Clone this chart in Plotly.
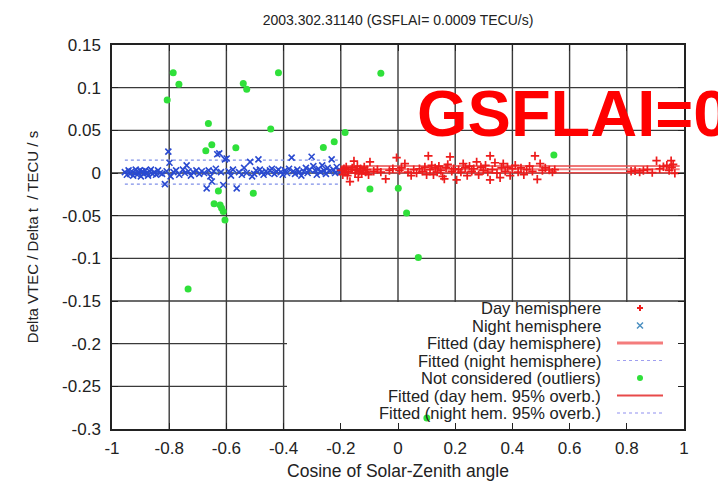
import plotly.graph_objects as go

# ---------------- data ----------------
night_x = [-0.955,-0.948,-0.942,-0.937,-0.931,-0.926,-0.921,-0.917,-0.912,-0.908,-0.903,-0.899,-0.894,-0.889,-0.884,-0.879,-0.874,-0.869,-0.864,-0.858,-0.852,-0.846,-0.839,-0.832,-0.825,
           -0.815,-0.809,-0.803,-0.799,-0.795,-0.785,-0.776,-0.765,-0.752,-0.745,-0.739,-0.733,-0.724,-0.716,-0.705,
           -0.695,-0.686,-0.678,-0.669,-0.662,-0.656,-0.651,-0.644,-0.637,-0.632,-0.625,-0.619,-0.611,-0.605,-0.599,
           -0.592,-0.584,-0.577,-0.564,-0.556,-0.546,-0.538,-0.529,-0.517,-0.510,-0.503,-0.496,-0.488,-0.483,-0.476,-0.470,-0.462,-0.455,-0.448,-0.441,-0.432,-0.425,-0.418,-0.410,-0.403,
           -0.395,-0.388,-0.381,-0.372,-0.366,-0.360,-0.352,-0.345,-0.338,-0.330,-0.322,-0.316,-0.309,-0.302,-0.296,-0.290,-0.284,-0.278,-0.271,-0.265,-0.259,-0.252,-0.246,-0.240,-0.232,-0.226,-0.220,-0.214,-0.208,-0.202]
night_y = [0.001,-0.002,0.003,-0.001,0.002,-0.003,0.000,0.004,-0.002,0.001,0.003,-0.004,0.002,-0.001,0.003,0.000,-0.003,0.002,0.004,-0.001,0.001,-0.002,0.003,0.000,-0.001,
           -0.013,0.002,0.025,0.012,-0.004,0.001,0.003,-0.002,0.004,0.000,0.009,0.002,-0.003,0.001,0.003,
           -0.001,0.002,0.000,-0.018,0.003,-0.004,-0.010,0.002,0.005,0.022,0.023,0.001,-0.014,0.016,0.017,
           0.002,-0.003,0.004,-0.018,0.001,-0.002,0.006,0.000,0.013,-0.004,-0.001,0.003,0.016,0.004,0.001,-0.002,0.002,0.000,0.003,0.005,-0.001,0.002,0.004,0.001,-0.002,
           0.003,0.000,0.005,0.018,0.002,-0.001,0.004,0.001,-0.003,0.002,0.006,0.000,0.004,0.019,0.008,0.003,-0.002,0.005,0.001,0.009,0.003,-0.001,0.006,0.002,0.016,0.004,0.000,0.007,0.003,0.001]

day_x = [-0.198,-0.193,-0.189,-0.185,-0.181,-0.177,-0.173,-0.168,-0.164,-0.160,-0.154,-0.150,-0.146,-0.142,-0.139,-0.135,-0.131,-0.127,-0.122,-0.118,-0.113,-0.108,-0.103,-0.098,
         -0.085,-0.072,-0.060,-0.043,-0.030,-0.018,-0.005,0.005,0.012,0.024,0.035,0.046,0.055,0.065,
         0.075,0.085,0.094,0.100,0.106,0.112,0.118,0.124,0.130,0.137,0.143,0.150,0.156,0.162,0.168,0.174,0.182,0.188,0.195,0.205,0.212,0.220,0.228,0.235,0.242,0.250,0.258,0.265,0.275,0.282,0.290,0.298,0.306,0.314,0.322,0.322,0.330,0.339,0.346,0.357,0.362,0.368,0.375,0.383,0.392,0.400,0.410,0.420,0.430,0.440,0.450,0.460,0.470,0.479,0.487,0.497,0.505,0.515,0.529,0.540,0.548,
         0.815,0.829,0.845,0.858,0.872,0.889,0.904,0.915,0.928,0.940,0.948,0.955,0.957,0.962,0.968]
day_y = [0.003,-0.002,0.005,0.001,0.007,-0.003,0.002,-0.010,0.004,0.006,0.014,0.000,0.003,0.008,-0.005,0.002,0.005,-0.001,0.003,0.007,0.001,0.004,-0.002,0.013,
         0.002,0.004,0.001,-0.007,0.003,0.005,0.018,0.003,0.006,0.011,0.001,-0.003,0.004,0.000,
         0.005,0.002,0.007,-0.002,0.020,0.004,0.009,-0.002,0.006,0.001,0.008,0.003,-0.004,-0.007,0.006,0.010,0.019,0.002,0.005,-0.008,0.004,0.001,0.011,0.006,-0.003,0.008,0.002,0.005,0.013,-0.002,0.007,0.003,0.009,0.001,0.020,-0.008,0.004,0.012,0.000,-0.0055,0.006,0.011,0.002,0.007,-0.003,0.005,0.009,0.001,0.006,-0.002,0.004,0.008,0.002,0.020,-0.0074,0.011,0.003,0.006,0.0035,0.001,0.004,
         0.002,0.0027,0.001,0.003,0.004,0.0004,0.0144,0.005,0.0074,0.009,0.003,0.0144,0.0067,0.010,-0.0004]

out_x = [-0.807,-0.786,-0.766,-0.734,-0.663,-0.651,-0.672,-0.628,-0.643,-0.622,-0.617,-0.611,-0.605,-0.541,-0.529,-0.567,-0.506,-0.445,-0.418,-0.261,-0.223,-0.185,-0.098,-0.060,0.001,0.030,0.071,0.545,0.101]
out_y = [0.0855,0.1175,0.104,-0.136,0.058,0.033,0.026,-0.021,-0.036,-0.0375,-0.041,-0.045,-0.055,0.105,0.098,0.0297,-0.0238,0.0515,0.1175,0.030,0.0367,0.0475,-0.0188,0.117,-0.018,-0.047,-0.099,0.021,-0.287]

# fitted lines (x extent and levels)
day_fit_x = [-0.2, 0.985]
day_fit = 0.0043
day_upper = 0.0083
day_lower = 0.0004
night_fit_x = [-0.955, -0.2]
night_fit = 0.001
night_upper = 0.015
night_lower = -0.013

x_ticks = [-1, -0.8, -0.6, -0.4, -0.2, 0, 0.2, 0.4, 0.6, 0.8, 1]
x_ticktext = ["-1", "-0.8", "-0.6", "-0.4", "-0.2", "0", "0.2", "0.4", "0.6", "0.8", "1"]
y_ticks = [0.15, 0.1, 0.05, 0, -0.05, -0.1, -0.15, -0.2, -0.25, -0.3]
y_ticktext = ["0.15", "0.1", "0.05", "0", "-0.05", "-0.1", "-0.15", "-0.2", "-0.25", "-0.3"]

legend_labels = ["Day hemisphere", "Night hemisphere", "Fitted (day hemisphere)",
                 "Fitted (night hemisphere)", "Not considered (outliers)",
                 "Fitted (day hem. 95% overb.)", "Fitted (night hem. 95% overb.)"]

title_text = "2003.302.31140 (GSFLAI= 0.0009 TECU/s)"
overlay_text = "GSFLAI=0"

# ---------------- figure ----------------
RED = "#ee1c1c"
BLUE = "#2a4ad0"
GREEN = "#2fe03a"
FONT = "Liberation Sans, Arial, sans-serif"
TXT = "#222"
XMIN, XMAX, YMIN, YMAX = -1, 1, -0.3, 0.15

W, H = 718, 482
L, R, T, B = 112, 34, 45, 53
pw, ph = W - L - R, H - T - B

def px(xp):
    return (xp - L) / pw

def py(yp):
    return (H - B - yp) / ph

box_x = XMIN + (287 - L) / pw * (XMAX - XMIN)
box_y = YMIN + (H - B - 302) / ph * (YMAX - YMIN)

fig = go.Figure()

for lvl in (night_upper, night_lower):
    fig.add_trace(go.Scatter(x=night_fit_x, y=[lvl, lvl], mode="lines",
                             line=dict(color="#7f8fe8", width=1.2, dash="dot"),
                             showlegend=False, hoverinfo="skip"))
fig.add_trace(go.Scatter(x=night_fit_x, y=[night_fit, night_fit], mode="lines",
                         line=dict(color="#8fc8e8", width=1.2, dash="dot"),
                         showlegend=False, hoverinfo="skip"))
for lvl in (day_upper, day_lower):
    fig.add_trace(go.Scatter(x=day_fit_x, y=[lvl, lvl], mode="lines",
                             line=dict(color="#e84a4a", width=1.5),
                             showlegend=False, hoverinfo="skip"))
fig.add_trace(go.Scatter(x=day_fit_x, y=[day_fit, day_fit], mode="lines",
                         line=dict(color="#f47c7c", width=2),
                         showlegend=False, hoverinfo="skip"))

fig.add_trace(go.Scatter(x=night_x, y=night_y, mode="markers",
                         marker=dict(symbol="x-thin", size=6, line=dict(color=BLUE, width=1.6)),
                         showlegend=False))
fig.add_trace(go.Scatter(x=day_x, y=day_y, mode="markers",
                         marker=dict(symbol="cross-thin", size=6, line=dict(color=RED, width=1.7)),
                         showlegend=False))
fig.add_trace(go.Scatter(x=out_x, y=out_y, mode="markers",
                         marker=dict(symbol="circle", size=7, color=GREEN),
                         showlegend=False))

shapes = []
annotations = []

GRID = dict(color="#3a3a3a", width=1.4)
for xv in x_ticks[1:-1]:
    y_end = box_y if xv > box_x else YMIN
    shapes.append(dict(type="line", xref="x", yref="y", x0=xv, x1=xv, y0=y_end, y1=YMAX,
                       line=GRID, layer="below"))
for yv in y_ticks[1:-1]:
    x_end = box_x if yv <= box_y + 1e-9 else XMAX
    shapes.append(dict(type="line", xref="x", yref="y", x0=XMIN, x1=x_end, y0=yv, y1=yv,
                       line=GRID, layer="below"))

row_y = [308, 325.5, 343, 360.5, 378, 395.5, 413]
for lab, yy in zip(legend_labels, row_y):
    annotations.append(dict(text=lab, xref="paper", yref="paper", x=px(603), y=py(yy),
                            xanchor="right", yanchor="middle", showarrow=False,
                            font=dict(family=FONT, size=16.5, color=TXT)))
mx = 640
y0 = row_y[0]
shapes.append(dict(type="line", xref="paper", yref="paper", x0=px(mx-3), x1=px(mx+3), y0=py(y0), y1=py(y0), line=dict(color=RED, width=2)))
shapes.append(dict(type="line", xref="paper", yref="paper", x0=px(mx), x1=px(mx), y0=py(y0-3), y1=py(y0+3), line=dict(color=RED, width=2)))
y1 = row_y[1]
shapes.append(dict(type="line", xref="paper", yref="paper", x0=px(mx-3), x1=px(mx+3), y0=py(y1-3), y1=py(y1+3), line=dict(color="#4a8fc0", width=1.5)))
shapes.append(dict(type="line", xref="paper", yref="paper", x0=px(mx-3), x1=px(mx+3), y0=py(y1+3), y1=py(y1-3), line=dict(color="#4a8fc0", width=1.5)))
shapes.append(dict(type="line", xref="paper", yref="paper", x0=px(617), x1=px(663), y0=py(row_y[2]), y1=py(row_y[2]), line=dict(color="#f47c7c", width=3)))
shapes.append(dict(type="line", xref="paper", yref="paper", x0=px(617), x1=px(663), y0=py(row_y[3]), y1=py(row_y[3]), line=dict(color="#9f9ff0", width=1.2, dash="dot")))
y4 = row_y[4]
shapes.append(dict(type="circle", xref="paper", yref="paper", x0=px(mx-3), x1=px(mx+3), y0=py(y4-3), y1=py(y4+3), fillcolor=GREEN, line=dict(width=0)))
shapes.append(dict(type="line", xref="paper", yref="paper", x0=px(617), x1=px(663), y0=py(row_y[5]), y1=py(row_y[5]), line=dict(color="#e84a4a", width=2)))
shapes.append(dict(type="line", xref="paper", yref="paper", x0=px(617), x1=px(663), y0=py(row_y[6]), y1=py(row_y[6]), line=dict(color="#8f8ff0", width=1.2, dash="dot")))

annotations.append(dict(text="<b>" + overlay_text + "</b>", xref="paper", yref="paper",
                        x=px(415), y=py(113), xanchor="left", yanchor="middle", showarrow=False,
                        font=dict(family=FONT, size=65, color="#ff0000")))

axis_common = dict(showline=True, linecolor=TXT, linewidth=1.5, mirror="ticks",
                   ticks="inside", ticklen=6, tickcolor=TXT, tickwidth=1.2,
                   showgrid=False, zeroline=False, automargin=False,
                   tickfont=dict(family=FONT, size=17, color=TXT))

fig.update_layout(
    width=W, height=H,
    margin=dict(l=L, r=R, t=T, b=B, pad=0, autoexpand=False),
    paper_bgcolor="white", plot_bgcolor="white",
    title=dict(text=title_text, x=(L + pw / 2) / W, xanchor="center", y=1 - 20 / H, yanchor="middle",
               font=dict(family=FONT, size=14, color=TXT)),
    xaxis=dict(range=[XMIN, XMAX], tickvals=x_ticks, ticktext=x_ticktext, ticklabelstandoff=3,
               title=dict(text="Cosine of Solar-Zenith angle", standoff=8,
                          font=dict(family=FONT, size=17.5, color=TXT)), **axis_common),
    yaxis=dict(range=[YMIN, YMAX], tickvals=y_ticks, ticktext=y_ticktext, ticklabelstandoff=6,
               title=dict(text="Delta VTEC / Delta t  / TECU / s", standoff=20,
                          font=dict(family=FONT, size=15, color=TXT)), **axis_common),
    shapes=shapes, annotations=annotations, showlegend=False,
)

fig.write_html("out.html")
